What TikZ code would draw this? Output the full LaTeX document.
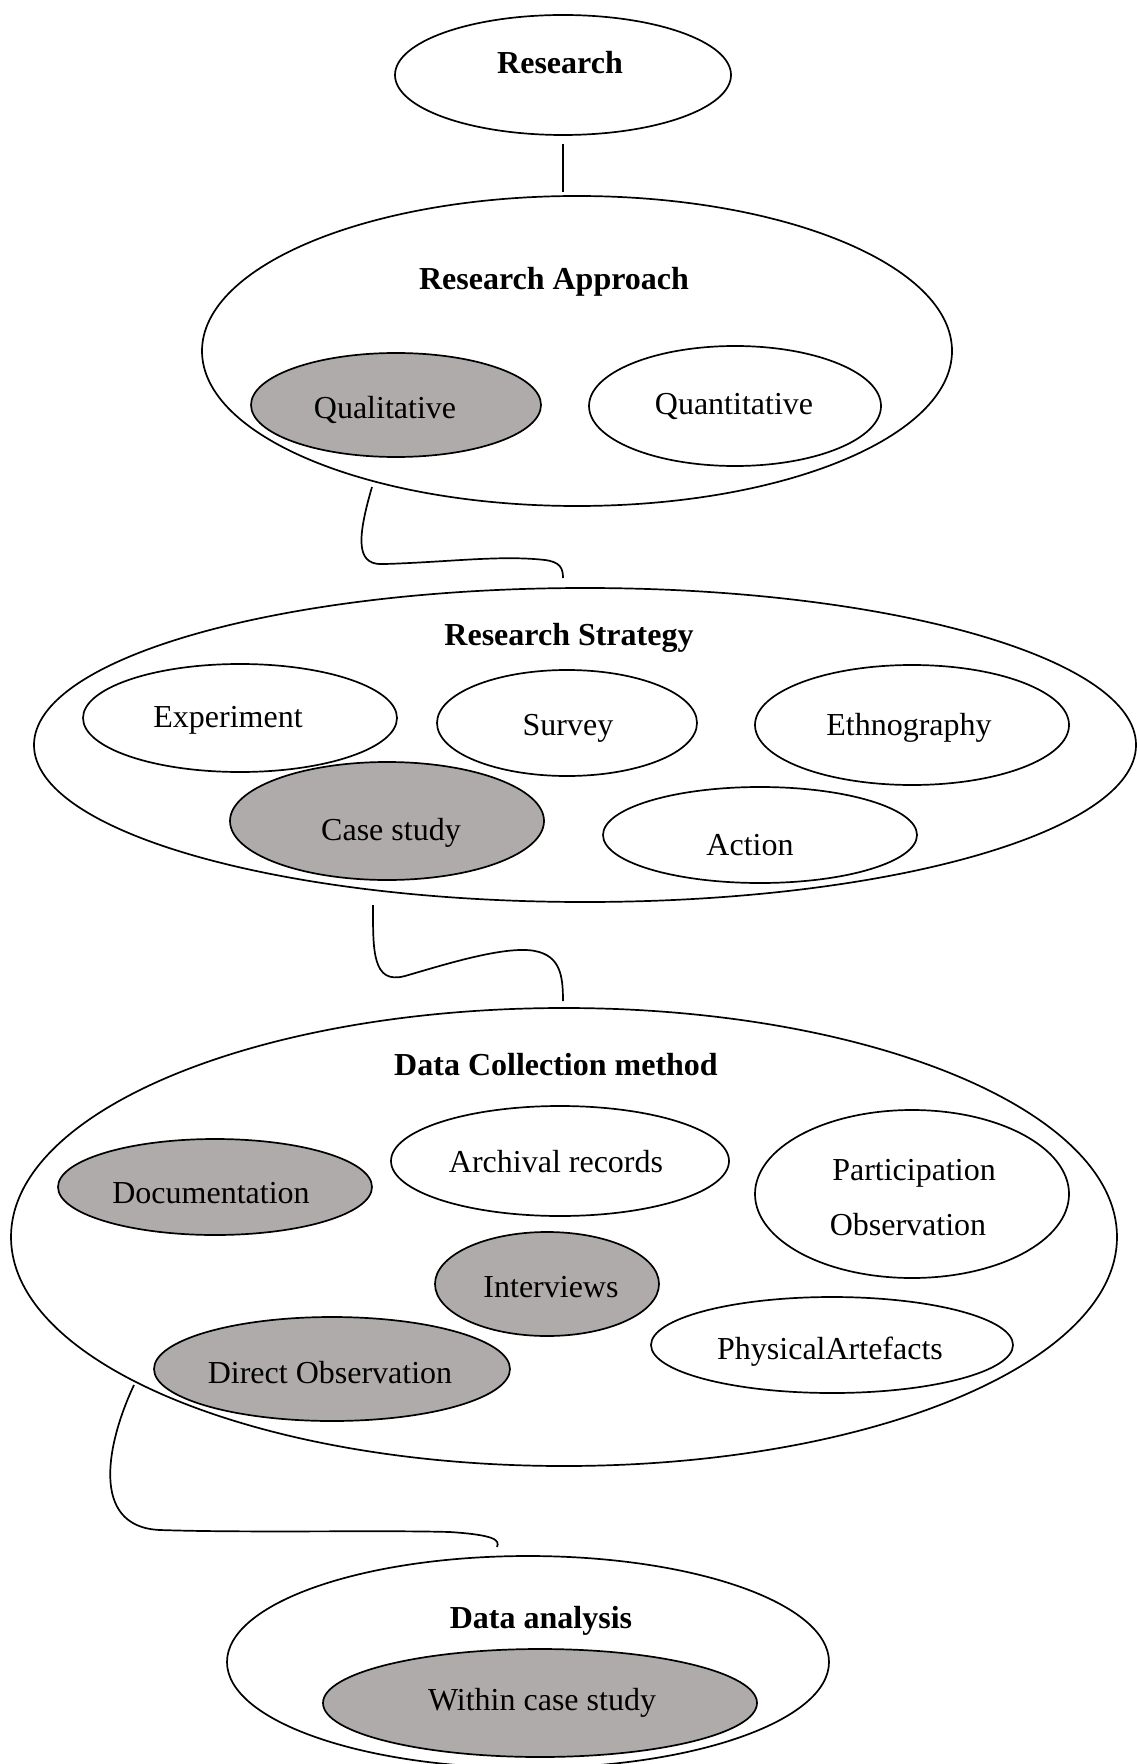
\documentclass[tikz,border=0pt]{standalone}
\usepackage{fontspec}
\setmainfont{Liberation Serif}
\usetikzlibrary{shapes.geometric,calc}
\definecolor{shade}{RGB}{175,171,171}
\begin{document}
\begin{tikzpicture}[x=0.5pt,y=-0.5pt,
  oval/.style args={#1/#2}{ellipse,draw,line width=0.85pt,inner sep=0pt,minimum width=#1pt,minimum height=#2pt},
  grey/.style={fill=shade},
  lbl/.style={anchor=base,inner sep=0pt,font=\fontsize{16}{19}\selectfont},
  ttl/.style={anchor=base,inner sep=0pt,font=\fontsize{16}{19}\selectfont\bfseries},
  link/.style={line width=0.85pt}]
\useasboundingbox (0,0) rectangle (1136,1764);

% Research
\node[oval=168/60] (research) at (563,75) {};
\node[ttl] (researchT) at (560,74) {Research};

% Research Approach
\node[oval=375/155] (approach) at (577,351) {};
\node[ttl] (approachT) at (554,290) {Research Approach};
\node[oval=145/52,grey] (qual) at (396,405) {};
\node[lbl] (qualT) at (385,419) {Qualitative};
\node[oval=146/60] (quant) at (735,406) {};
\node[lbl] (quantT) at (734,415) {Quantitative};

% Research Strategy
\node[oval=551/157] (strategy) at (585,745) {};
\node[ttl] (strategyT) at (569,645) {Research Strategy};
\node[oval=157/54] (exper) at (240,718) {};
\node[lbl] (experT) at (228,727) {Experiment};
\node[oval=130/53] (survey) at (567,723) {};
\node[lbl] (surveyT) at (568,735) {Survey};
\node[oval=157/60] (ethno) at (912,725) {};
\node[lbl] (ethnoT) at (909,735) {Ethnography};
\node[oval=157/59,grey] (casest) at (387,821) {};
\node[lbl] (casestT) at (391,840) {Case study};
\node[oval=157/48] (action) at (760,835) {};
\node[lbl] (actionT) at (750,855) {Action};

% Data Collection method
\node[oval=553/229] (collect) at (564,1237) {};
\node[ttl] (collectT) at (556,1075) {Data Collection method};
\node[oval=157/48,grey] (docu) at (215,1187) {};
\node[lbl] (docuT) at (211,1203) {Documentation};
\node[oval=169/55] (archiv) at (560,1161) {};
\node[lbl] (archivT) at (556,1172) {Archival records};
\node[oval=157/84] (partic) at (912,1194) {};
\node[lbl] (particT) at (914,1180) {Participation};
\node[lbl] (particT2) at (908,1235) {Observation};
\node[oval=112/52,grey] (interv) at (547,1284) {};
\node[lbl] (intervT) at (551,1297) {Interviews};
\node[oval=181/48] (physic) at (832,1345) {};
\node[lbl] (physicT) at (830,1359) {PhysicalArtefacts};
\node[oval=178/52,grey] (direct) at (332,1369) {};
\node[lbl] (directT) at (330,1383) {Direct Observation};

% Data analysis
\node[oval=301/106] (analysis) at (528,1662) {};
\node[ttl] (analysisT) at (541,1628) {Data analysis};
\node[oval=217/54,grey] (within) at (540,1703) {};
\node[lbl] (withinT) at (542,1710) {Within case study};

% connector end points
\coordinate (k0a) at (563,144);
\coordinate (k0b) at (563,192);
\coordinate (k1a) at (372,487);
\coordinate (k1b) at (563,578);
\coordinate (k2a) at (373,905);
\coordinate (k2b) at (563,1001);
\coordinate (k3a) at (134,1385);
\coordinate (k3b) at (497,1547);

\draw[link] (k0a) -- (k0b);
\draw[link] (k1a) .. controls (355,545) and (358,566) .. (385,564)
  .. controls (450,562) and (500,555) .. (545,560)
  .. controls (560,562) and (563,568) .. (k1b);
\draw[link] (k2a) .. controls (373,950) and (372,985) .. (405,976)
  .. controls (440,966) and (505,945) .. (535,951)
  .. controls (560,956) and (563,975) .. (k2b);
\draw[link] (k3a) .. controls (108,1440) and (88,1527) .. (160,1530)
  .. controls (250,1533) and (380,1530) .. (450,1532)
  .. controls (495,1535) and (500,1540) .. (k3b);
\end{tikzpicture}
\end{document}
